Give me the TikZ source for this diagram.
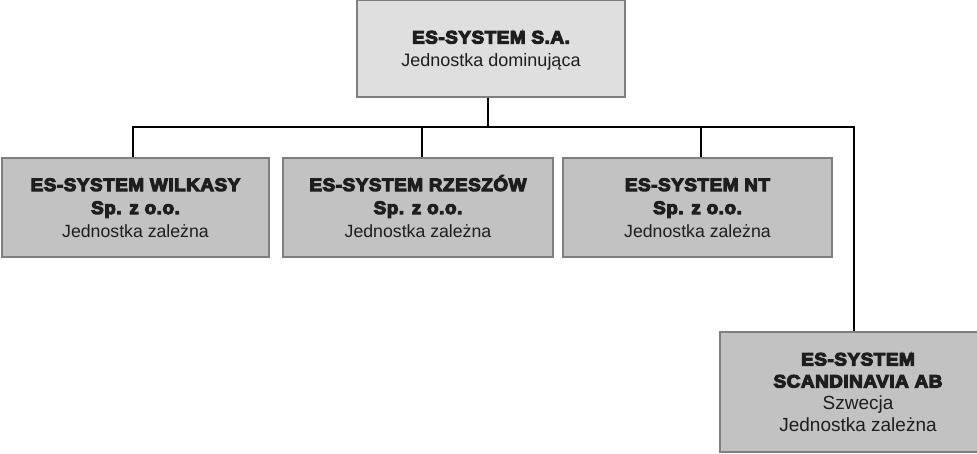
\documentclass[tikz,border=0pt]{standalone}
\usepackage{fontspec}
\setmainfont{Liberation Sans}
\newfontfamily\heavy[FakeStretch=1.05,LetterSpace=3]{Liberation Sans Bold}
\newcommand{\tstr}{\rule{0pt}{18pt}}
\newcommand{\bstr}{\rule[-5pt]{0pt}{5pt}}
\newcommand{\hb}[1]{{\heavy\fontsize{18}{23}\selectfont\special{pdf:literal 2 Tr 1.1 w}#1\special{pdf:literal 0 Tr}}}
\definecolor{bordergray}{HTML}{7F7F7F}
\definecolor{topfill}{HTML}{DFDFDF}
\definecolor{childfill}{HTML}{C2C2C2}
\definecolor{textc}{HTML}{1E1E1E}
\begin{document}
\begin{tikzpicture}[x=1pt,y=-1pt,
  box/.style={draw=bordergray, line width=1.2pt, inner sep=0pt, align=center, text=textc},
  pbox/.style={box, fill=topfill, minimum width=268pt, minimum height=97pt, font=\fontsize{18}{23}\selectfont},
  cbox/.style={box, fill=childfill, minimum height=99pt, font=\fontsize{17.7}{23}\selectfont},
  conn/.style={line width=1.8pt, black}]
\clip (0,0) rectangle (977,453);
\fill[white] (0,0) rectangle (977,453);

\node[pbox] (top) at (491,48.5) {\tstr\hb{ES-SYSTEM S.A.}\\ Jednostka dominująca\bstr};

\node[cbox, minimum width=267pt] (c1) at (135.5,207.5) {\tstr\hb{ES-SYSTEM WILKASY}\\ \hb{Sp. z o.o.}\\ Jednostka zależna\bstr};
\node[cbox, minimum width=270pt] (c2) at (418,207.5) {\tstr\hb{ES-SYSTEM RZESZÓW}\\ \hb{Sp. z o.o.}\\ Jednostka zależna\bstr};
\node[cbox, minimum width=269pt] (c3) at (697.5,207.5) {\tstr\hb{ES-SYSTEM NT}\\ \hb{Sp. z o.o.}\\ Jednostka zależna\bstr};
\node[box, fill=childfill, minimum width=276pt, minimum height=120pt, font=\fontsize{19}{22}\selectfont] (c4) at (858,392) {\tstr\hb{ES-SYSTEM}\\ \hb{SCANDINAVIA AB}\\ Szwecja\\ Jednostka zależna\bstr};

\coordinate (bus) at (488,127);
\draw[conn] ([xshift=-3pt]top.south) -- (bus);
\draw[conn] ([xshift=-2.5pt]c1.north) |- (bus);
\draw[conn] ([xshift=4pt]c2.north) |- (bus);
\draw[conn] ([xshift=3.5pt]c3.north) |- (bus);
\draw[conn] ([xshift=-4pt]c4.north) |- (bus);
\end{tikzpicture}
\end{document}
